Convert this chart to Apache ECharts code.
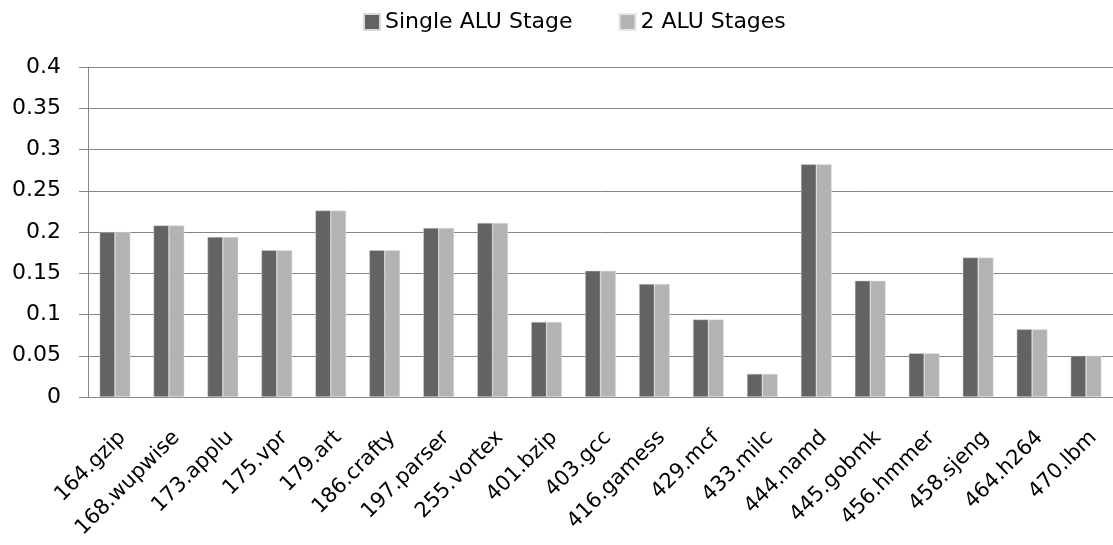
<!DOCTYPE html>
<html>
<head>
<meta charset="utf-8">
<script src="https://cdn.jsdelivr.net/npm/echarts@6/dist/echarts.min.js"></script>
<style>html,body{margin:0;padding:0;background:#fff}#c{width:1113px;height:545px}</style>
</head>
<body>
<div id="c"></div>
<script>
const categories = ['164.gzip','168.wupwise','173.applu','175.vpr','179.art','186.crafty','197.parser','255.vortex','401.bzip','403.gcc','416.gamess','429.mcf','433.milc','444.namd','445.gobmk','456.hmmer','458.sjeng','464.h264','470.lbm'];
const singleALU = [0.200,0.208,0.194,0.178,0.226,0.178,0.205,0.211,0.091,0.153,0.137,0.094,0.028,0.282,0.141,0.053,0.169,0.082,0.050];
const twoALU    = [0.200,0.208,0.194,0.178,0.226,0.178,0.205,0.211,0.091,0.153,0.137,0.094,0.028,0.282,0.141,0.053,0.169,0.082,0.050];
const seriesNames = ['Single ALU Stage','2 ALU Stages'];

const FONT = 'DejaVu Sans';
const chart = echarts.init(document.getElementById('c'));
chart.setOption({
  animation: false,
  backgroundColor: '#fff',
  legend: {
    top: 6, left: 358, itemWidth: 16, itemHeight: 16, itemGap: 46,
    icon: 'rect',
    textStyle: { fontFamily: FONT, fontSize: 22, color: '#000' },
    data: seriesNames
  },
  grid: { left: 88, top: 67, width: 1032, height: 330, containLabel: false },
  xAxis: {
    type: 'category', data: categories,
    axisLine: { lineStyle: { color: '#868686', width: 1 } },
    axisTick: { alignWithLabel: false, length: 7, lineStyle: { color: '#868686' } },
    axisLabel: { rotate: 45, interval: 0, margin: 30, verticalAlign: 'top',
      fontFamily: FONT, fontSize: 21, color: '#000' }
  },
  yAxis: {
    type: 'value', min: 0, max: 0.4, interval: 0.05,
    axisLine: { show: true, lineStyle: { color: '#868686', width: 1 } },
    axisTick: { show: true, length: 9, lineStyle: { color: '#868686' } },
    splitLine: { lineStyle: { color: '#868686', width: 1 } },
    axisLabel: { margin: 27, fontFamily: FONT, fontSize: 22, color: '#000',
      formatter: v => String(parseFloat(v.toFixed(2))) }
  },
  series: [
    { name: seriesNames[0], type: 'bar', data: singleALU, barGap: '0%', barCategoryGap: '43%',
      itemStyle: { color: '#636363', borderColor: '#d9d9d9', borderWidth: 0.5 } },
    { name: seriesNames[1], type: 'bar', data: twoALU,
      itemStyle: { color: '#b3b3b3', borderColor: '#e6e6e6', borderWidth: 0.5 } }
  ]
});
</script>
</body>
</html>
